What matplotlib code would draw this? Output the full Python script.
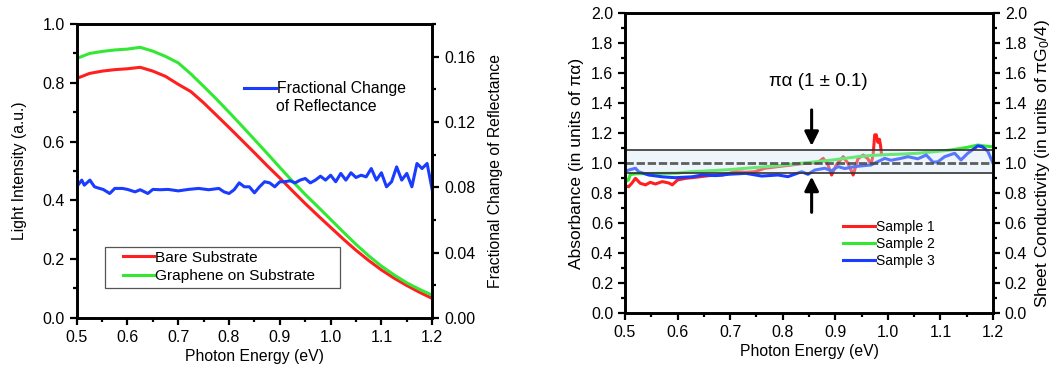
import matplotlib
matplotlib.use("Agg")
import matplotlib.pyplot as plt
from matplotlib.patches import Rectangle
from matplotlib.ticker import MultipleLocator

# ---- data ------------------------------------------------------------------
# left panel: light intensity spectra (left axis)
energy_smooth = [0.500, 0.525, 0.550, 0.575, 0.600, 0.625, 0.650, 0.675, 0.700,
                 0.725, 0.750, 0.775, 0.800, 0.825, 0.850, 0.875, 0.900, 0.925,
                 0.950, 0.975, 1.000, 1.025, 1.050, 1.075, 1.100, 1.125, 1.150,
                 1.175, 1.200]
bare_substrate = [0.815, 0.832, 0.840, 0.845, 0.848, 0.853, 0.840, 0.822, 0.795,
                  0.770, 0.732, 0.690, 0.648, 0.605, 0.562, 0.518, 0.476, 0.432,
                  0.389, 0.348, 0.308, 0.268, 0.230, 0.195, 0.163, 0.135, 0.110,
                  0.087, 0.066]
graphene_on_substrate = [0.883, 0.900, 0.907, 0.912, 0.915, 0.921, 0.908, 0.890,
                         0.868, 0.830, 0.788, 0.745, 0.700, 0.654, 0.607, 0.560,
                         0.512, 0.465, 0.420, 0.378, 0.335, 0.292, 0.250, 0.211,
                         0.176, 0.146, 0.119, 0.097, 0.077]

# left panel: fractional change of reflectance (right axis)
energy_frac = [0.500, 0.510, 0.515, 0.526, 0.535, 0.545, 0.552, 0.560, 0.565, 0.575,
               0.590, 0.600, 0.615, 0.625, 0.640, 0.650, 0.665, 0.680, 0.700, 0.720,
               0.740, 0.760, 0.780, 0.790, 0.800, 0.810, 0.820, 0.830, 0.840, 0.850,
               0.860, 0.870, 0.880, 0.890, 0.900, 0.910, 0.920, 0.930, 0.940, 0.950,
               0.960, 0.970, 0.980, 0.990, 1.000, 1.010, 1.020, 1.030, 1.040, 1.050,
               1.060, 1.070, 1.080, 1.090, 1.100, 1.110, 1.120, 1.130, 1.140, 1.150,
               1.160, 1.170, 1.180, 1.190, 1.200]
frac_change = [0.0803, 0.0844, 0.0813, 0.0844, 0.0803, 0.0793, 0.0787, 0.0772, 0.0762,
               0.0793, 0.0793, 0.0787, 0.0772, 0.0785, 0.0762, 0.0787, 0.0785, 0.0787,
               0.0778, 0.0787, 0.0793, 0.0785, 0.0793, 0.0772, 0.0762, 0.0785, 0.0827,
               0.0803, 0.0803, 0.0766, 0.0803, 0.0834, 0.0827, 0.0803, 0.0834, 0.0834,
               0.0840, 0.0827, 0.0844, 0.0854, 0.0827, 0.0844, 0.0868, 0.0844, 0.0874,
               0.0834, 0.0885, 0.0844, 0.0889, 0.0860, 0.0874, 0.0864, 0.0915, 0.0844,
               0.0889, 0.0803, 0.0834, 0.0925, 0.0844, 0.0885, 0.0803, 0.0946, 0.0915,
               0.0946, 0.0785]

# right panel: absorbance of three samples
energy_s1 = [0.500, 0.507, 0.513, 0.520, 0.529, 0.539, 0.548, 0.558, 0.571, 0.584,
             0.590, 0.600, 0.616, 0.635, 0.660, 0.686, 0.711, 0.730, 0.747, 0.766,
             0.791, 0.817, 0.842, 0.867, 0.877, 0.886, 0.893, 0.902, 0.915, 0.924,
             0.934, 0.943, 0.953, 0.962, 0.968, 0.972, 0.975, 0.978, 0.981, 0.984,
             0.986, 0.988]
sample1 = [0.850, 0.844, 0.867, 0.900, 0.867, 0.856, 0.873, 0.862, 0.878, 0.868,
           0.856, 0.889, 0.900, 0.907, 0.918, 0.922, 0.944, 0.940, 0.944, 0.967,
           0.978, 0.989, 1.000, 1.005, 1.033, 0.990, 0.922, 0.990, 1.044, 1.000,
           0.922, 1.030, 1.055, 1.030, 0.990, 1.060, 1.190, 1.190, 1.140, 1.160,
           1.120, 1.060]

energy_s2 = [0.500, 0.503, 0.507, 0.510, 0.520, 0.550, 0.600, 0.628, 0.650, 0.700,
             0.730, 0.760, 0.791, 0.820, 0.855, 0.890, 0.918, 0.945, 0.968, 1.000,
             1.030, 1.057, 1.090, 1.120, 1.152, 1.171, 1.185, 1.200]
sample2 = [0.920, 0.880, 0.890, 0.925, 0.930, 0.932, 0.935, 0.945, 0.948, 0.958,
           0.967, 0.975, 0.984, 0.995, 1.007, 1.020, 1.033, 1.045, 1.052, 1.058,
           1.062, 1.067, 1.078, 1.089, 1.107, 1.122, 1.115, 1.110]

energy_s3 = [0.500, 0.507, 0.520, 0.526, 0.545, 0.571, 0.596, 0.628, 0.647, 0.673,
             0.698, 0.730, 0.760, 0.791, 0.810, 0.836, 0.848, 0.861, 0.880, 0.893,
             0.905, 0.918, 0.937, 0.968, 0.981, 0.994, 1.006, 1.025, 1.038, 1.057,
             1.073, 1.086, 1.095, 1.108, 1.127, 1.139, 1.152, 1.171, 1.180, 1.190,
             1.200]
sample3 = [0.945, 0.955, 0.967, 0.944, 0.922, 0.910, 0.904, 0.910, 0.922, 0.918,
           0.927, 0.933, 0.915, 0.922, 0.911, 0.944, 0.927, 0.955, 0.967, 0.950,
           0.978, 0.965, 0.978, 0.989, 1.011, 1.033, 1.020, 1.033, 1.044, 1.030,
           1.055, 1.007, 1.010, 1.044, 1.067, 1.022, 1.067, 1.116, 1.110, 1.080,
           1.000]

band_low, band_high = 0.933, 1.089   # "pi alpha (1 +/- 0.1)" band
arrow_x = 0.855

# ---- style -----------------------------------------------------------------
RED, GREEN, BLUE = "#ff1f1f", "#33e833", "#1a3cff"
FONT = "Liberation Sans"

plt.rcParams.update({
    "font.family": [FONT, "DejaVu Sans"],
    "mathtext.fontset": "custom",
    "mathtext.rm": FONT,
    "mathtext.it": FONT + ":italic",
    "axes.linewidth": 1.9,
    "xtick.major.width": 1.6, "ytick.major.width": 1.6,
    "xtick.minor.width": 1.6, "ytick.minor.width": 1.6,
    "xtick.major.size": 5, "ytick.major.size": 5,
    "xtick.minor.size": 3, "ytick.minor.size": 3,
    "xtick.direction": "out", "ytick.direction": "out",
    "xtick.labelsize": 11.5, "ytick.labelsize": 11.5,
    "axes.labelsize": 11.3,
})


def style_energy_axis(ax):
    ax.set_xlim(0.5, 1.2)
    ax.xaxis.set_major_locator(MultipleLocator(0.1))
    ax.xaxis.set_minor_locator(MultipleLocator(0.05))
    ax.xaxis.set_major_formatter(lambda v, pos: f"{v:.1f}")
    ax.set_xlabel("Photon Energy (eV)", labelpad=3)
    ax.tick_params(top=False, which="both")


fig = plt.figure(figsize=(10.58, 3.77), dpi=100)

# ---- left panel ------------------------------------------------------------
ax1 = fig.add_axes([0.0725, 0.157, 0.336, 0.779])
line_bare, = ax1.plot(energy_smooth, bare_substrate, color=RED, lw=2.2)
line_gr, = ax1.plot(energy_smooth, graphene_on_substrate, color=GREEN, lw=2.2)
style_energy_axis(ax1)
ax1.set_ylim(0, 1.0)
ax1.yaxis.set_major_locator(MultipleLocator(0.2))
ax1.yaxis.set_minor_locator(MultipleLocator(0.1))
ax1.yaxis.set_major_formatter(lambda v, pos: f"{v:.1f}")
ax1.set_ylabel("Light Intensity (a.u.)", labelpad=11)

ax1r = ax1.twinx()
line_frac, = ax1r.plot(energy_frac, frac_change, color=BLUE, lw=2.2)
ax1r.set_ylim(0, 0.18)
ax1r.yaxis.set_major_locator(MultipleLocator(0.04))
ax1r.yaxis.set_minor_locator(MultipleLocator(0.02))
ax1r.yaxis.set_major_formatter(lambda v, pos: f"{v:.2f}")
ax1r.set_ylabel("Fractional Change of Reflectance", labelpad=9)

# boxed legend for the two spectra
ax1.add_patch(Rectangle((0.556, 0.10), 0.462, 0.142, facecolor="white",
                        edgecolor="#555555", lw=0.9, zorder=4))
ax1.legend([line_bare, line_gr], ["Bare Substrate", "Graphene on Substrate"],
           loc="upper left", bbox_to_anchor=(0.591, 0.228),
           bbox_transform=ax1.transData, fontsize=11.1, frameon=False,
           handlelength=2.0, handletextpad=0.1, borderaxespad=0,
           borderpad=0, labelspacing=0.3).set_zorder(5)

ax1r.legend([line_frac], ["Fractional Change"], loc="center left",
            bbox_to_anchor=(0.818, 0.78), bbox_transform=ax1.transData,
            fontsize=11.3, frameon=False, handlelength=2.0, handletextpad=0.1,
            borderaxespad=0)
ax1.text(0.893, 0.72, "of Reflectance", fontsize=11.3, ha="left", va="center")

# ---- right panel -----------------------------------------------------------
ax2 = fig.add_axes([0.5907, 0.169, 0.3479, 0.7957])
l1, = ax2.plot(energy_s1, sample1, color=RED, lw=2.2, zorder=2)
l2, = ax2.plot(energy_s2, sample2, color=GREEN, lw=2.2, zorder=2)
l3, = ax2.plot(energy_s3, sample3, color=BLUE, lw=2.2, zorder=2)

# translucent band drawn over the data, as in the original figure
ax2.axhspan(band_low, band_high, facecolor="#cfe8f8", alpha=0.35,
            edgecolor="none", zorder=3)
ax2.axhline(band_low, color="#333333", lw=1.2, zorder=4)
ax2.axhline(band_high, color="#333333", lw=1.2, zorder=4)
ax2.axhline(1.0, color="#444444", lw=2.0, ls=(0, (3, 1)), alpha=0.85, zorder=4)

style_energy_axis(ax2)
ax2.set_ylim(0, 2.0)
ax2.yaxis.set_major_locator(MultipleLocator(0.2))
ax2.yaxis.set_minor_locator(MultipleLocator(0.1))
ax2.yaxis.set_major_formatter(lambda v, pos: f"{v:.1f}")
ax2.set_ylabel("Absorbance (in units of πα)", fontsize=12.5, labelpad=5)

ax2r = ax2.twinx()
ax2r.set_ylim(ax2.get_ylim())
ax2r.yaxis.set_major_locator(MultipleLocator(0.2))
ax2r.yaxis.set_minor_locator(MultipleLocator(0.1))
ax2r.yaxis.set_major_formatter(lambda v, pos: f"{v:.1f}")
ax2r.set_ylabel("Sheet Conductivity (in units of πG$_0$/4)", fontsize=12.5,
                labelpad=4)

arrow = dict(arrowstyle="-|>", color="black", lw=2.2, mutation_scale=21,
             shrinkA=0, shrinkB=0)
ax2.annotate("", xy=(arrow_x, 1.116), xytext=(arrow_x, 1.356), arrowprops=arrow, zorder=5)
ax2.annotate("", xy=(arrow_x, 0.911), xytext=(arrow_x, 0.673), arrowprops=arrow, zorder=5)
ax2.text(0.867, 1.545, "πα (1 ± 0.1)", fontsize=13.5, ha="center", va="center")

ax2.legend([l1, l2, l3], ["Sample 1", "Sample 2", "Sample 3"], loc="upper left",
           bbox_to_anchor=(0.914, 0.622), bbox_transform=ax2.transData,
           fontsize=10, frameon=False, handlelength=2.3, handletextpad=0.1,
           borderaxespad=0, borderpad=0, labelspacing=0.2)

fig.savefig("out.png", dpi=100)
